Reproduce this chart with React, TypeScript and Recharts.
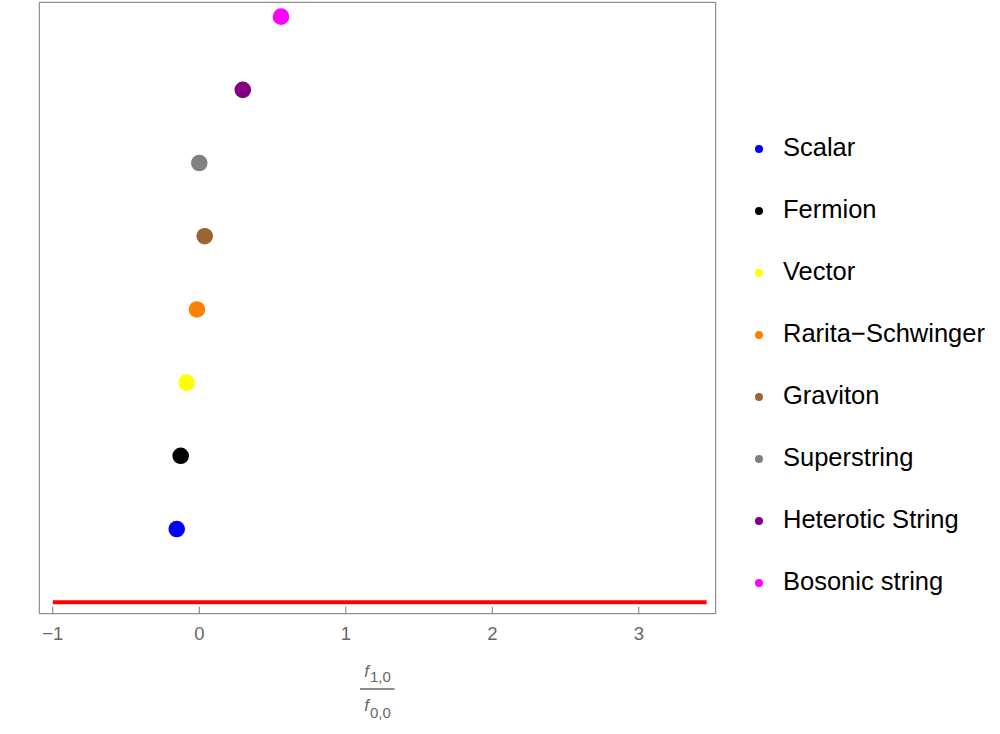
import React from 'react';
import { ScatterChart, Scatter, XAxis, YAxis } from 'recharts';

const categories = ['Scalar', 'Fermion', 'Vector', 'Rarita\u2212Schwinger', 'Graviton', 'Superstring', 'Heterotic String', 'Bosonic string'];
const ratioValues = [-0.154, -0.127, -0.086, -0.016, 0.037, 0.0, 0.297, 0.558];
const levelValues = [1, 2, 3, 4, 5, 6, 7, 8];
const colors = ['#0000ff', '#000000', '#ffff00', '#ff7f00', '#996633', '#808080', '#800080', '#ff00ff'];
const redLineX = [-1, 3.463];
const redLineY = [0, 0];
const majorTicks = [-1, 0, 1, 2, 3];
const minorTicks = [-0.8, -0.6, -0.4, -0.2, 0.2, 0.4, 0.6, 0.8, 1.2, 1.4, 1.6, 1.8, 2.2, 2.4, 2.6, 2.8, 3.2, 3.4];

const xDomain: [number, number] = [-1.092, 3.525];
const yDomain: [number, number] = [-0.157, 8.196];

const frameColor = '#777777';
const labelColor = '#666666';
const FONT = '"Liberation Sans", Arial, sans-serif';

const redLineData = redLineX.map((x, i) => ({ x, y: redLineY[i] }));

const formatTick = (v: number) => String(v).replace('-', '\u2212');

const TickLabel = (props: any) => {
  const { x, y, payload } = props;
  return (
    <text x={x} y={y + 13.3} textAnchor="middle" fontSize={18.5} fontFamily={FONT} fill={labelColor}>
      {formatTick(payload.value)}
    </text>
  );
};

const FractionLabel = (props: any) => {
  const vb = props.viewBox || {};
  const cx = vb.x + vb.width / 2;
  const y0 = vb.y;
  return (
    <g fontFamily={FONT} fill={labelColor}>
      <text x={cx} y={y0 + 63.5} textAnchor="middle" fontSize={15}>
        <tspan fontStyle="italic" fontSize={17}>f</tspan>
        <tspan dx={1} dy={5}>1,0</tspan>
      </text>
      <line x1={cx - 17.5} x2={cx + 17} y1={y0 + 75.3} y2={y0 + 75.3} stroke={labelColor} strokeWidth={1.5} />
      <text x={cx} y={y0 + 97.5} textAnchor="middle" fontSize={15}>
        <tspan fontStyle="italic" fontSize={17}>f</tspan>
        <tspan dx={1} dy={7}>0,0</tspan>
      </text>
    </g>
  );
};

export default function App() {
  return (
    <div style={{ position: 'absolute', left: 0, top: 0, width: 1000, height: 734, background: '#fff' }}>
      <ScatterChart width={1000} height={734} margin={{ top: 0.3, right: 283.3, bottom: 118.3, left: 38.3 }}>
        <XAxis
          xAxisId="main"
          type="number"
          dataKey="x"
          domain={xDomain}
          allowDataOverflow
          ticks={majorTicks}
          interval={0}
          height={1}
          tickSize={-7}
          tickMargin={20}
          stroke={frameColor}
          tick={<TickLabel />}
          label={{ content: FractionLabel }}
        />
        <XAxis
          xAxisId="minor"
          type="number"
          dataKey="x"
          domain={xDomain}
          allowDataOverflow
          ticks={minorTicks}
          interval={0}
          height={1}
          tickSize={-4.5}
          axisLine={false}
          stroke={frameColor}
          tick={false}
        />
        <XAxis
          xAxisId="topMajor"
          orientation="top"
          type="number"
          dataKey="x"
          domain={xDomain}
          allowDataOverflow
          ticks={majorTicks}
          interval={0}
          height={1}
          tickSize={-7}
          stroke={frameColor}
          tick={false}
        />
        <XAxis
          xAxisId="topMinor"
          orientation="top"
          type="number"
          dataKey="x"
          domain={xDomain}
          allowDataOverflow
          ticks={minorTicks}
          interval={0}
          height={1}
          tickSize={-4.5}
          axisLine={false}
          stroke={frameColor}
          tick={false}
        />
        <YAxis
          yAxisId="left"
          type="number"
          dataKey="y"
          domain={yDomain}
          allowDataOverflow
          width={1}
          tick={false}
          tickLine={false}
          stroke={frameColor}
        />
        <YAxis
          yAxisId="right"
          orientation="right"
          type="number"
          dataKey="y"
          domain={yDomain}
          allowDataOverflow
          width={1}
          tick={false}
          tickLine={false}
          stroke={frameColor}
        />
        <Scatter
          xAxisId="main"
          yAxisId="left"
          data={redLineData}
          line={{ stroke: '#ff0000', strokeWidth: 4 }}
          shape={() => <g />}
          isAnimationActive={false}
        />
        {categories.map((name, i) => (
          <Scatter
            key={name}
            name={name}
            xAxisId="main"
            yAxisId="left"
            data={[{ x: ratioValues[i], y: levelValues[i] }]}
            fill={colors[i]}
            isAnimationActive={false}
            shape={(p: any) => <circle cx={p.cx} cy={p.cy} r={8.3} fill={colors[i]} />}
          />
        ))}
      </ScatterChart>
      <div style={{ position: 'absolute', left: 750, top: 0, width: 250, height: 734, fontFamily: FONT }}>
        {categories.map((name, i) => (
          <div
            key={name}
            style={{ position: 'absolute', left: 0, top: 132 + i * 61.96, height: 30, lineHeight: '30px', whiteSpace: 'nowrap' }}
          >
            <span
              style={{ position: 'absolute', left: 5, top: 13, width: 8, height: 8, borderRadius: 4, background: colors[i] }}
            />
            <span style={{ position: 'absolute', left: 33, top: 0, fontSize: 25.5, color: '#000' }}>{name}</span>
          </div>
        ))}
      </div>
    </div>
  );
}
